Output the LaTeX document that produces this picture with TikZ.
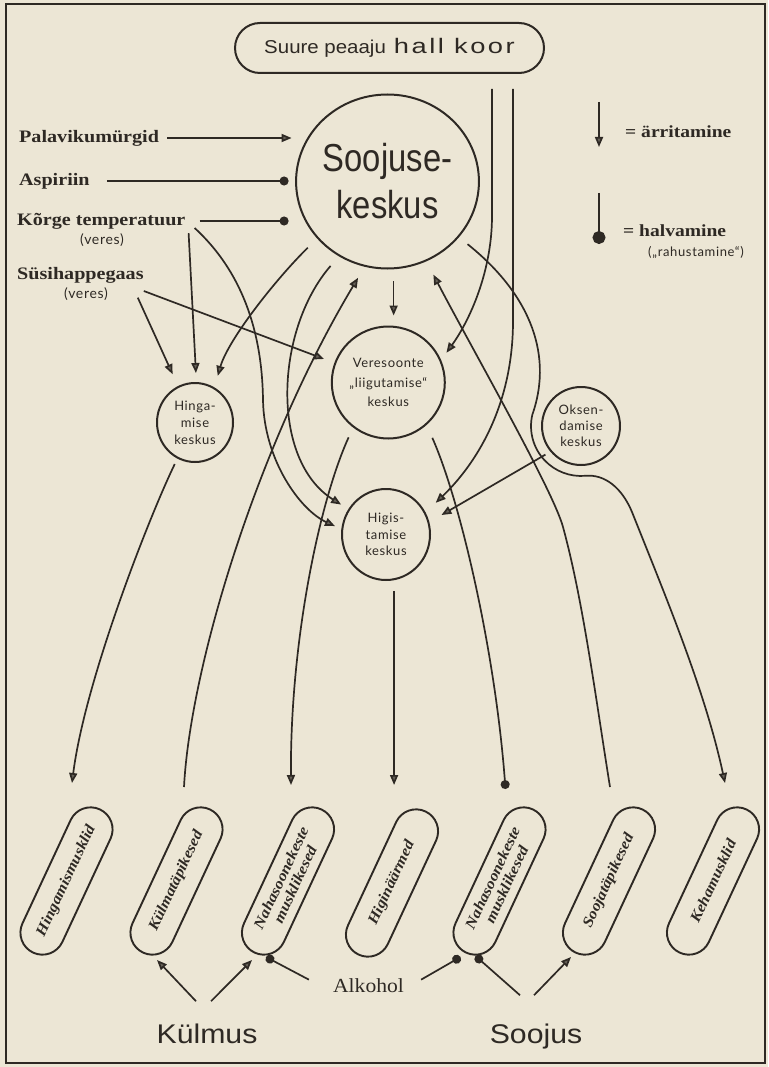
\documentclass[tikz,border=0pt]{standalone}
\usepackage{fontspec}
\usetikzlibrary{arrows.meta,shapes.geometric,shapes.misc,calc}
\definecolor{paper}{RGB}{236,230,213}
\definecolor{ink}{RGB}{46,41,36}
\newfontfamily\condsans[FakeStretch=0.84]{Liberation Sans}
\newfontfamily\widesans[FakeStretch=1.12]{Liberation Sans}
\newfontfamily\suurefont[FakeStretch=1.1]{Liberation Sans}
\newfontfamily\koorfont[FakeStretch=1.3,LetterSpace=12]{Liberation Sans}
\newfontfamily\humfont[LetterSpace=5]{Lato}
\newfontfamily\labfont[FakeStretch=1.15]{Liberation Serif}
\newfontfamily\pillfont[FakeStretch=1.1]{Liberation Serif}
\newfontfamily\alkfont[FakeStretch=1.08]{Liberation Serif}
\tikzset{
 ln/.style={draw=ink, line width=1.7pt},
 tri/.style={ln, -{Triangle[length=10pt,width=8pt,fill=ink!70!paper]}},
 dot/.style={ln, -{Circle[length=9pt]}},
 ctr/.style={draw=ink, line width=2pt, inner sep=0pt, text=ink, align=center},
 circ/.style={ctr, ellipse},
 pill/.style={draw=ink, line width=1.9pt, rounded rectangle, minimum width=158pt, minimum height=44pt, inner sep=0pt, align=center, rotate=65, text=ink, font=\pillfont\fontsize{15}{15.5}\selectfont\bfseries\itshape},
 lab/.style={text=ink, inner sep=0pt, anchor=west, font=\labfont\fontsize{17.5}{20}\selectfont\bfseries},
 small/.style={text=ink, inner sep=0pt, font=\humfont\fontsize{14}{16}\selectfont},
}
\begin{document}
\begin{tikzpicture}[x=1pt,y=-1pt]
\fill[paper] (0,0) rectangle (768,1067);
\useasboundingbox (0,0) rectangle (768,1067);
\draw[ink, line width=1.4pt] (6,4) rectangle (765,1063);

% centres
\node[ctr, rounded rectangle, minimum width=309pt, minimum height=50pt] (koor) at (389.5,48)
  {{\suurefont\fontsize{18.6}{20}\selectfont Suure peaaju}\hspace{8pt}{\koorfont\fontsize{21}{22}\selectfont hall koor}};
\node[circ, minimum width=174pt, minimum height=174pt, font=\condsans\fontsize{39}{47}\selectfont] (sooj) at (387.5,181.5) {Soojuse-\\keskus};
\node[circ, minimum width=113pt, minimum height=112pt, font=\humfont\fontsize{13}{19.5}\selectfont] (ves) at (388.3,382.5) {Veresoonte\\„liigutamise“\\keskus};
\node[circ, minimum width=76pt, minimum height=79pt, font=\humfont\fontsize{13}{17}\selectfont] (hing) at (195,422.5) {Hinga-\\mise\\keskus};
\node[circ, minimum width=88pt, minimum height=91pt, font=\humfont\fontsize{13}{16.5}\selectfont] (higi) at (386,534.5) {Higis-\\tamise\\keskus};
\node[circ, minimum width=78pt, minimum height=78pt, font=\humfont\fontsize{13}{16}\selectfont] (oks) at (581,426) {Oksen-\\damise\\keskus};

% left labels
\node[lab] (pal) at (19,138) {Palavikumürgid};
\node[lab] (asp) at (19,181) {Aspiriin};
\node[lab] (kt) at (17,221) {Kõrge temperatuur};
\node[small] (v1) at (102,240) {(veres)};
\node[lab] (sus) at (17,275.5) {Süsihappegaas};
\node[small] (v2) at (86,294) {(veres)};

% legend
\coordinate (l1a) at (599,102); \coordinate (l1b) at (599,147);
\draw[tri] (l1a) -- (l1b);
\node[text=ink, inner sep=0pt, anchor=base west, font=\labfont\fontsize{17}{20}\selectfont\bfseries] (l1t) at (625,138) {= ärritamine};
\coordinate (l2a) at (599,193); \coordinate (l2b) at (599,244);
\draw[ln, -{Circle[length=13pt]}] (l2a) -- (l2b);
\node[text=ink, inner sep=0pt, anchor=base west, font=\labfont\fontsize{17}{20}\selectfont\bfseries] (l2t) at (623,236.5) {= halvamine};
\node[small, font=\humfont\fontsize{13}{15}\selectfont] (l2s) at (696,252) {(„rahustamine“)};

% effectors
\node[pill] (m1) at (66.5,881) {Hingamismusklid};
\node[pill] (m2) at (176.5,881) {Külmatäpikesed};
\node[pill] (m3) at (288,881) {Nahasoonekeste\\musklikesed};
\node[pill] (m4) at (392,883) {Higinäärmed};
\node[pill] (m5) at (499.5,881) {Nahasoonekeste\\musklikesed};
\node[pill] (m6) at (609,881) {Soojatäpikesed};
\node[pill] (m7) at (713,881) {Kehamusklid};

\node[text=ink, inner sep=0pt, anchor=base, font=\widesans\fontsize{27}{28}\selectfont] (kulm) at (207,1043) {Külmus};
\node[text=ink, inner sep=0pt, anchor=base, font=\widesans\fontsize{27}{28}\selectfont] (sooj2) at (536,1043) {Soojus};
\node[text=ink, inner sep=0pt, anchor=base, font=\alkfont\fontsize{20}{22}\selectfont] (alk) at (368.5,992) {Alkohol};

% free ends near the effectors
\coordinate (t1) at ($(m1.center)+(5.5,-98)$);
\coordinate (t2) at ($(m2.center)+(7.5,-94)$);
\coordinate (t3) at ($(m3.center)+(3,-96)$);
\coordinate (t4) at ($(m4.center)+(2,-98)$);
\coordinate (t5) at ($(m5.center)+(6,-92)$);
\coordinate (t6) at ($(m6.center)+(1,-94)$);
\coordinate (t7) at ($(m7.center)+(12,-98)$);
\coordinate (b2) at ($(m2.center)+(-19.5,79)$);
\coordinate (b3a) at ($(m3.center)+(-36,79)$);
\coordinate (b3b) at ($(m3.center)+(-22,76)$);
\coordinate (b5a) at ($(m5.center)+(-39,76)$);
\coordinate (b5b) at ($(m5.center)+(-24,75)$);
\coordinate (b6) at ($(m6.center)+(-38,76)$);

% inputs to the heat centre
\draw[tri, shorten <=8pt, shorten >=3.5pt] (pal.east) -- (pal.east -| sooj.west);
\draw[dot, shorten <=17pt, shorten >=6.5pt] (asp.east) -- (asp.east -| sooj.west);
\draw[dot, shorten <=14pt, shorten >=6.5pt] (kt.east) -- (kt.east -| sooj.west);

\draw[tri, shorten >=9pt] ($(kt.south east)+(3,4)$) -- (hing.88);
\draw[tri, shorten >=7pt] ($(kt.east)+(9,7)$) .. controls (235,265) and (262,320) .. (263,400)
   .. controls (264,460) and (300,510) .. (higi.173);
\draw[tri, shorten >=13pt] ($(sus.south east)+(-6,14)$) -- (hing.115);
\draw[tri, shorten >=11pt] ($(sus.east)+(0,15.5)$) -- (ves.160);

\draw[tri, shorten <=13pt, shorten >=12pt] (sooj.219) .. controls (275,280) and (228,340) .. (hing.61);
\draw[tri, shorten <=12.7pt, shorten >=8.5pt] (sooj.237) .. controls (275,330) and (270,460) .. (higi.146);
\draw[tri, shorten <=12pt, shorten >=10pt] (sooj.-86) -- (sooj.-86 |- ves.north);
\draw[tri, shorten <=11pt] (sooj.-38) .. controls (525,290) and (555,350) .. (532.3,414.8)
   .. controls (528.5,431.1) and (533.2,448.3) .. (544.7,460.4)
   .. controls (555.2,471.5) and (570.2,477.1) .. (585.4,475.8)
   .. controls (605,474) and (622,488) .. (632,512)
   .. controls (665,595) and (705,690) .. (t7);

% cortex
\draw[tri, shorten >=9pt] ($(koor.south)+(102.5,15)$) -- ++(0,127) .. controls +(0,55) and (470,320) .. (ves.23);
\draw[tri, shorten >=14pt] ($(koor.south)+(123.5,15)$) -- ++(0,232) .. controls +(0,80) and (480,460) .. (higi.29);

\draw[tri, shorten <=5.7pt, shorten >=14pt] (oks.220) -- (higi.16);

% receptors to heat centre
\draw[tri, shorten >=12.8pt] (t2) .. controls (190,670) and (255,450) .. (sooj.255);
\draw[tri, shorten >=15pt] (t6) .. controls (596,700) and (583,600) .. (563,527)
   .. controls (553,490) and (470,345) .. (sooj.-64);

% centres to effectors
\draw[tri, shorten <=6pt] (hing.-116) .. controls (150,515) and (85,680) .. (t1);
\draw[tri, shorten <=10.8pt] (ves.232) .. controls (320,500) and (290,640) .. (t3);
\draw[dot, shorten <=14pt] (ves.-48) .. controls (460,500) and (495,650) .. (t5);
\draw[tri, shorten <=10.7pt] (higi.-80) -- (higi.-80 |- t4);

% bottom influences
\draw[tri] ($(kulm.north)+(-11,-22)$) -- (b2);
\draw[tri] ($(kulm.north)+(4,-22)$) -- (b3a);
\draw[dot] ($(alk.west)+(-24,-5.5)$) -- (b3b);
\draw[dot] ($(alk.east)+(17,-5.5)$) -- (b5a);
\draw[dot] ($(sooj2.north)+(-16,-28)$) -- (b5b);
\draw[tri] ($(sooj2.north)+(-2,-28)$) -- (b6);
\end{tikzpicture}
\end{document}
